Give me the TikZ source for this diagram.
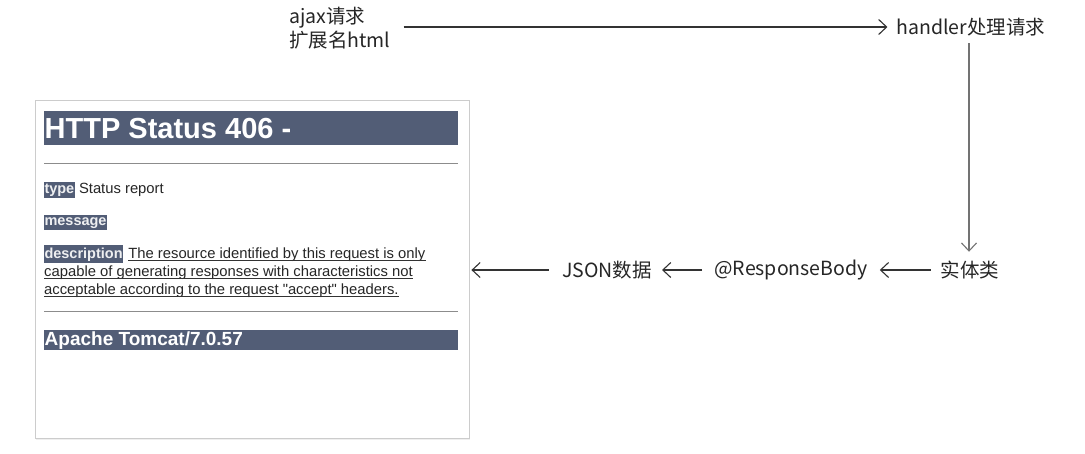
\documentclass[tikz,border=0pt]{standalone}
\usepackage{fontspec}
\newfontfamily\cjk{Noto Sans CJK SC}
\newfontfamily\tah{Liberation Sans}
\usetikzlibrary{arrows.meta,shadows}
\definecolor{tomcat}{HTML}{525D76}
\definecolor{arrowgray}{HTML}{333333}
\tikzset{
  lbl/.style={font=\cjk\fontsize{19.5}{24}\selectfont, text=black!85, inner sep=0pt},
  arr/.style={draw=arrowgray, line width=1.1pt, -{Straight Barb[length=8pt,width=15pt,line width=1.1pt]}},
  bar/.style={fill=tomcat, draw=none},
  bartext/.style={text=white, inner sep=0pt, anchor=west},
  tag/.style={fill=tomcat, text=white!90!tomcat, font=\tah\bfseries\fontsize{14.5}{17}\selectfont, inner xsep=0.3pt, inner ysep=2pt, anchor=base west},
  body/.style={font=\tah\fontsize{14.8}{17}\selectfont, text=black!85, inner sep=0pt, anchor=base west},
  rule/.style={draw=black!45, line width=0.8pt},
}
\begin{document}
\begin{tikzpicture}[x=1pt,y=-1pt]
\useasboundingbox (0,0) rectangle (1085,453);
\fill[white] (0,0) rectangle (1085,453);

% flow text nodes
\node[lbl, align=left, anchor=west] (ajax) at (289,28) {ajax请求\\扩展名html};
\node[lbl] (handler) at (971,27) {handler处理请求};
\node[lbl] (entity) at (970,270) {实体类};
\node[lbl] (rb) at (791,270) {@ResponseBody};
\node[lbl] (json) at (607,270) {JSON数据};

% error page box
\node[draw=black!20, line width=0.8pt, fill=white, minimum width=434pt, minimum height=338pt, inner sep=0pt,
      drop shadow={opacity=0.12, shadow xshift=1.2pt, shadow yshift=-1.5pt}] (page) at (252,269) {};

\fill[bar] (44,111) rectangle (458,145);
\node[bartext, font=\tah\bfseries\fontsize{29}{32}\selectfont] (title) at (44.5,129) {HTTP Status 406 -};
\draw[rule] (44,163) -- (458,163);

\node[tag] (ttype) at (44,193) {type};
\node[body] (tstatus) at ([xshift=4pt]ttype.base east) {Status report};

\node[tag] (tmsg) at (44,225) {message};

\node[tag] (tdesc) at (44,258) {description};
\node[body] (d1) at ([xshift=5pt]tdesc.base east) {The resource identified by this request is only};
\node[body] (d2) at (44,276) {capable of generating responses with characteristics not};
\node[body] (d3) at (44,294) {acceptable according to the request "accept" headers.};
\foreach \n in {d1,d2,d3}
  \draw[black!80, line width=0.7pt] ([yshift=-2.5pt]\n.base west) -- ([yshift=-2.5pt]\n.base east);

\draw[rule] (44,311) -- (458,311);
\fill[bar] (44,330) rectangle (458,350);
\node[bartext, font=\tah\bfseries\fontsize{19}{22}\selectfont] (tomcatv) at (44.5,340.5) {Apache Tomcat/7.0.57};

% connectors
\draw[arr, shorten <=13pt, shorten >=9pt] (ajax.east |- handler.west) -- (handler.west);
\draw[arr, draw=black!55, shorten <=7pt, shorten >=9pt] (handler.south -| 969,0) -- (entity.north -| 969,0);
\draw[arr, shorten <=10pt, shorten >=12pt] (entity.west) -- (rb.east);
\draw[arr, shorten <=12pt, shorten >=10pt] (rb.west) -- (json.east);
\draw[arr, shorten <=13pt, shorten >=2pt] (json.west) -- (page.east |- json.west);
\end{tikzpicture}
\end{document}
